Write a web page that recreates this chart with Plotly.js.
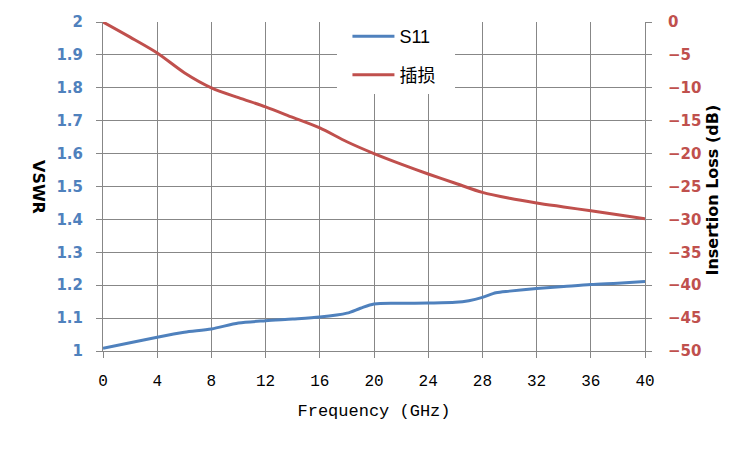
<!DOCTYPE html>
<html>
<head>
<meta charset="utf-8">
<script src="https://cdn.plot.ly/plotly-3.0.1.min.js"></script>
<style>html,body{margin:0;padding:0;background:#fff;}#chart{width:750px;height:450px;}</style>
</head>
<body>
<div id="chart"></div>
<script>
var freqS11 = [0, 2, 4, 6, 8, 10, 12, 14, 16, 18, 19, 20, 22, 24, 26, 27, 28, 29, 30, 32, 34, 36, 38, 40];
var vswr    = [1.008, 1.025, 1.042, 1.057, 1.067, 1.085, 1.092, 1.097, 1.103, 1.115, 1.13, 1.143, 1.145, 1.146, 1.148, 1.153, 1.163, 1.177, 1.182, 1.19, 1.196, 1.202, 1.206, 1.211];
var freqIL  = [0, 2, 4, 6, 8, 10, 12, 14, 16, 18, 20, 22, 24, 26, 28, 30, 32, 34, 36, 38, 40];
var insLoss = [0, -2.3, -4.7, -7.7, -10, -11.5, -12.9, -14.5, -16.1, -18.2, -20, -21.6, -23.1, -24.5, -25.9, -26.8, -27.5, -28.1, -28.7, -29.3, -29.9];
var xTicks  = [0, 4, 8, 12, 16, 20, 24, 28, 32, 36, 40];
var names   = ['S11', '插损'];

var blue = '#4F81BD', red = '#C0504D', grid = '#878787';

var traces = [
  {x: freqS11, y: vswr, name: names[0], type: 'scatter', mode: 'lines',
   line: {color: blue, width: 3, shape: 'spline', smoothing: 0.8}, yaxis: 'y', legendgroup: 'a'},
  {x: freqIL, y: insLoss, name: names[1], type: 'scatter', mode: 'lines',
   line: {color: red, width: 3, shape: 'spline', smoothing: 0.8}, yaxis: 'y2', legendgroup: 'b'}
];

var layout = {
  width: 750, height: 450,
  margin: {l: 103, r: 105, t: 22, b: 99},
  paper_bgcolor: '#fff', plot_bgcolor: '#fff',
  showlegend: true,
  legend: {x: 0.451, y: 1.012, xanchor: 'left', yanchor: 'top', bgcolor: 'rgba(255,255,255,0)', borderwidth: 0,
           font: {family: 'Liberation Sans, Noto Sans CJK SC, sans-serif', size: 18, color: '#000'},
           traceorder: 'grouped', tracegroupgap: 12, itemwidth: 42},
  shapes: [
    {type: 'rect', xref: 'paper', yref: 'paper', x0: 0.4317, x1: 0.6495, y0: 0.781, y1: 1.04,
     fillcolor: '#fff', line: {width: 0}, layer: 'above'}
  ],
  xaxis: {range: [0, 40], tickvals: xTicks, ticktext: xTicks.map(String),
          showgrid: true, gridcolor: grid, gridwidth: 1,
          showline: true, linecolor: grid, linewidth: 1,
          ticks: 'outside', ticklen: 6, tickcolor: grid, ticklabelstandoff: 9,
          tickfont: {family: 'Liberation Mono, monospace', size: 16, color: '#000'},
          zeroline: false,
          title: {text: 'Frequency (GHz)', standoff: 13,
                  font: {family: 'Liberation Mono, monospace', size: 17, color: '#000'}}},
  yaxis: {range: [1, 2], dtick: 0.1, tick0: 1,
          showgrid: true, gridcolor: grid, gridwidth: 1,
          showline: true, linecolor: grid, linewidth: 1,
          ticks: 'outside', ticklen: 6, tickcolor: grid, ticklabelstandoff: 10,
          tickfont: {family: 'DejaVu Sans, sans-serif', size: 15, color: blue, weight: 'bold'},
          zeroline: false},
  yaxis2: {range: [-50, 0], dtick: 5, tick0: -50, overlaying: 'y', side: 'right',
           showgrid: false, showline: true, linecolor: grid, linewidth: 1,
           ticks: 'outside', ticklen: 6, tickcolor: grid, ticklabelstandoff: 13,
           tickfont: {family: 'DejaVu Sans, sans-serif', size: 15, color: red, weight: 'bold'},
           zeroline: false},
  annotations: [
    {text: 'VSWR', xref: 'paper', yref: 'paper', x: -0.119, y: 0.5, xanchor: 'center', yanchor: 'middle',
     textangle: 90, showarrow: false,
     font: {family: 'DejaVu Sans, sans-serif', size: 16, color: '#000', weight: 'bold'}},
    {text: 'Insertion Loss (dB)', xref: 'paper', yref: 'paper', x: 1.125, y: 0.49, xanchor: 'center', yanchor: 'middle',
     textangle: -90, showarrow: false,
     font: {family: 'DejaVu Sans, sans-serif', size: 16, color: '#000', weight: 'bold'}}
  ]
};

Plotly.newPlot('chart', traces, layout, {displayModeBar: false, staticPlot: true});
</script>
</body>
</html>
